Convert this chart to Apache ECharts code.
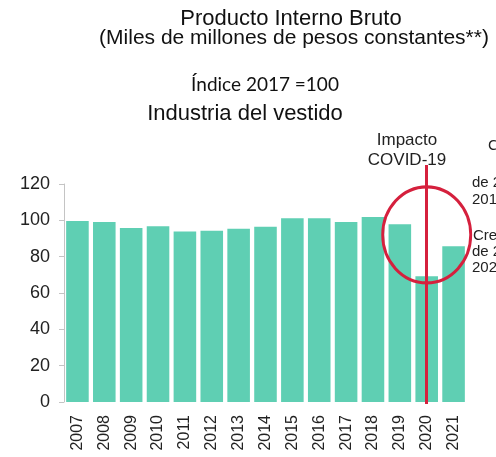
<!DOCTYPE html>
<html><head><meta charset="utf-8">
<script src="https://cdn.jsdelivr.net/npm/echarts@6/dist/echarts.min.js"></script>
<style>html,body{margin:0;padding:0;background:#fff}#c{width:496px;height:457px}</style>
</head><body><div id="c"></div>
<script>
const years = ['2007','2008','2009','2010','2011','2012','2013','2014','2015','2016','2017','2018','2019','2020','2021'];
const values = [99.7, 99.1, 95.8, 96.7, 93.9, 94.3, 95.4, 96.4, 101.1, 101.1, 99.1, 101.9, 97.8, 69.2, 85.7];
const yMin = 0, yMax = 120, yStep = 20;
const covidYear = '2020';
const circleValue = 92;

const RED = '#d5203d';
const TEAL = '#5fcfb3';
const SANS = '"Liberation Sans", Arial, sans-serif';

const chart = echarts.init(document.getElementById('c'), null, {renderer: 'canvas'});
chart.setOption({
  animation: false,
  backgroundColor: '#fff',
  title: [
    {text: 'Producto Interno Bruto', left: 291, top: 6, padding: 0, textAlign: 'center',
     textStyle: {fontFamily: SANS, fontSize: 22, fontWeight: 'normal', color: '#111', lineHeight: 26}},
    {text: '(Miles de millones de pesos constantes**)', left: 294, top: 26, padding: 0, textAlign: 'center',
     textStyle: {fontFamily: SANS, fontSize: 21, fontWeight: 'normal', color: '#111', lineHeight: 24}},
    {text: 'Índice 2017 =100', left: 265, top: 73, padding: 0, textAlign: 'center',
     textStyle: {fontFamily: 'Lato, "Open Sans", sans-serif', fontSize: 19, fontWeight: 'normal', color: '#111', lineHeight: 23}},
    {text: 'Industria del vestido', left: 245, top: 101, padding: 0, textAlign: 'center',
     textStyle: {fontFamily: SANS, fontSize: 22, fontWeight: 'normal', color: '#111', lineHeight: 26}}
  ],
  grid: [
    {left: 64, right: 29, top: 184, bottom: 55},
    {left: 64, right: 29, top: 165, bottom: 53}
  ],
  xAxis: [
    {type: 'category', data: years, gridIndex: 0,
     axisLine: {show: false}, axisTick: {show: false},
     axisLabel: {rotate: 90, fontFamily: SANS, fontSize: 16, color: '#222', margin: 13, interval: 0}},
    {type: 'category', data: years, gridIndex: 1, show: false}
  ],
  yAxis: [
    {type: 'value', gridIndex: 0, min: yMin, max: yMax, interval: yStep,
     axisLine: {show: true, lineStyle: {color: '#c4c4c4', width: 1}},
     axisTick: {show: true, length: 5, lineStyle: {color: '#c4c4c4'}},
     splitLine: {show: false},
     axisLabel: {fontFamily: SANS, fontSize: 18, color: '#222', margin: 14}},
    {type: 'value', gridIndex: 1, min: 0, max: 1, show: false}
  ],
  series: [
    {type: 'bar', data: values, xAxisIndex: 0, yAxisIndex: 0,
     barCategoryGap: '16%', itemStyle: {color: TEAL}, silent: true,
     markPoint: {
       silent: true,
       data: [{coord: [covidYear, circleValue], symbol: 'circle', symbolSize: [88, 96],
               itemStyle: {color: 'rgba(0,0,0,0)', borderColor: RED, borderWidth: 3}}],
       label: {show: false}
     }},
    {type: 'line', data: [], xAxisIndex: 1, yAxisIndex: 1, silent: true,
     markLine: {
       silent: true, symbol: 'none',
       lineStyle: {color: RED, width: 3, type: 'solid'},
       label: {show: false},
       data: [{xAxis: covidYear}]
     }}
  ],
  graphic: [
    {type: 'text', x: 407, y: 140, style: {text: 'Impacto', font: '17px ' + SANS, fill: '#222', align: 'center', verticalAlign: 'middle'}},
    {type: 'text', x: 407, y: 160, style: {text: 'COVID-19', font: '17px ' + SANS, fill: '#222', align: 'center', verticalAlign: 'middle'}},
    {type: 'text', x: 488, y: 146, style: {text: 'Caída', font: '15px ' + SANS, fill: '#222', align: 'left', verticalAlign: 'middle'}},
    {type: 'text', x: 472, y: 183, style: {text: 'de 2019', font: '15px ' + SANS, fill: '#222', align: 'left', verticalAlign: 'middle'}},
    {type: 'text', x: 472, y: 200, style: {text: '2018', font: '15px ' + SANS, fill: '#222', align: 'left', verticalAlign: 'middle'}},
    {type: 'text', x: 473, y: 236, style: {text: 'Crecimiento', font: '15px ' + SANS, fill: '#222', align: 'left', verticalAlign: 'middle'}},
    {type: 'text', x: 472, y: 252, style: {text: 'de 2021', font: '15px ' + SANS, fill: '#222', align: 'left', verticalAlign: 'middle'}},
    {type: 'text', x: 472, y: 268, style: {text: '2020', font: '15px ' + SANS, fill: '#222', align: 'left', verticalAlign: 'middle'}}
  ]
});
</script>
</body></html>
